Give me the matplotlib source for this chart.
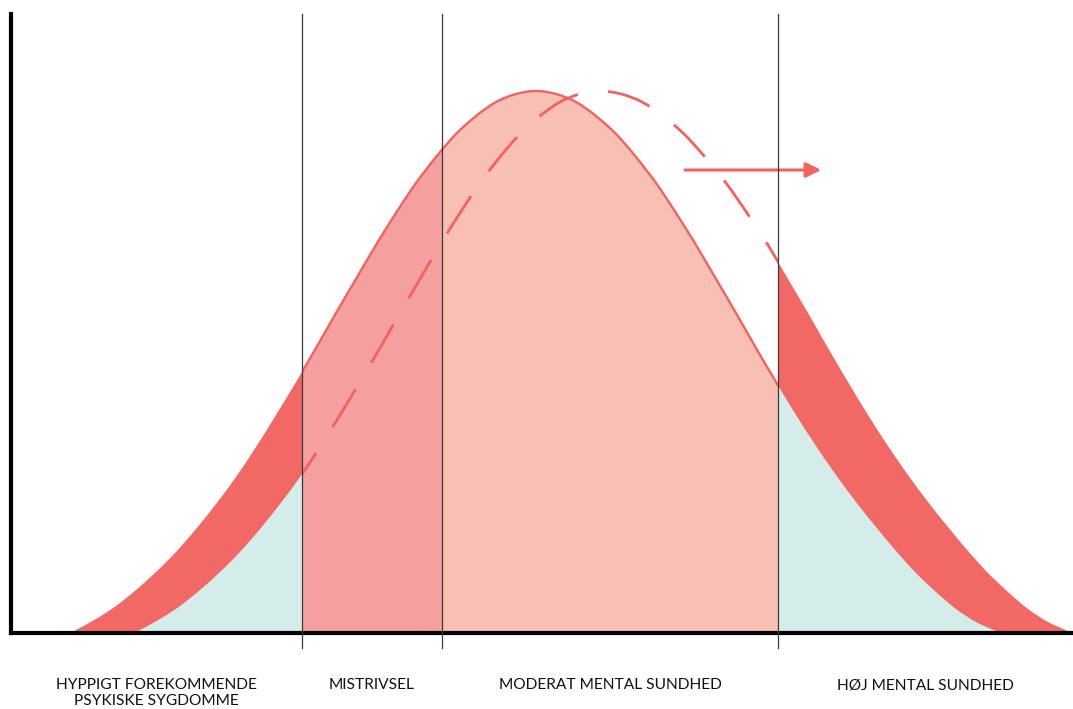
import numpy as np
import matplotlib
matplotlib.use('Agg')
import matplotlib.pyplot as plt
from matplotlib.patches import Rectangle, PathPatch
from matplotlib.path import Path

# population curve (x on a 0..1062 scale, height in the same units)
curve_x = [60, 65, 85, 105, 125, 145, 165, 185, 205, 225, 245, 265, 285, 305, 325,
           345, 365, 385, 405, 425, 445, 465, 485, 505, 525, 545, 565, 585, 605, 625,
           645, 665, 685, 705, 725, 745, 765, 785, 805, 825, 845, 865, 885, 905, 925,
           945, 965, 985, 990]
curve_y = [0, 3, 14, 27, 43, 61, 81, 104, 129, 156, 186, 218, 251, 285, 320,
           354, 388, 420, 450, 476, 499, 517, 531, 539, 542, 539, 531, 517, 499, 476,
           450, 420, 388, 354, 320, 285, 251, 218, 187, 158, 131, 106, 82, 60, 41,
           24, 11, 2, 0]

# the shifted (improved) population
shifted_x = [124, 129, 149, 169, 189, 209, 229, 249, 269, 289, 309, 329, 349, 369, 389,
             409, 429, 449, 469, 489, 509, 529, 549, 569, 589, 610, 631, 652, 673, 694,
             715, 736, 757, 777, 797, 817, 837, 857, 877, 897, 917, 937, 957, 977, 997,
             1017, 1037, 1057, 1062]
shifted_y = list(curve_y)

# band limits and names
cuts = [0, 291, 431, 767, 1062]
labels = ['HYPPIGT FOREKOMMENDE\nPSYKISKE SYGDOMME', 'MISTRIVSEL',
          'MODERAT MENTAL SUNDHED', 'HØJ MENTAL SUNDHED']

red = '#F26865'
pink = '#F4A0A1'
salmon = '#F8BFB5'
teal = '#D4EDEA'
line_red = '#F2625F'

plt.rcParams['font.family'] = ['Lato', 'DejaVu Sans']


def smooth_path(xs, ys, closed=False):
    # catmull-rom through the read points, drawn as bezier segments
    pts = np.column_stack([xs, ys]).astype(float)
    n = len(pts)
    verts = [pts[0]]
    codes = [Path.MOVETO]
    for i in range(n - 1):
        p0 = pts[max(i - 1, 0)]
        p1 = pts[i]
        p2 = pts[i + 1]
        p3 = pts[min(i + 2, n - 1)]
        verts += [p1 + (p2 - p0) / 6, p2 - (p3 - p1) / 6, p2]
        codes += [Path.CURVE4] * 3
    if closed:
        verts.append(pts[0])
        codes.append(Path.CLOSEPOLY)
    return Path(verts, codes)


fig = plt.figure(figsize=(10.73, 7.09), dpi=100)
ax = fig.add_axes([11 / 1073, 76 / 709, 1062 / 1073, 619 / 709])
ax.set_xlim(0, 1062)
ax.set_ylim(0, 619)


def band(x0, x1):
    return Rectangle((x0, -5), x1 - x0, 700, transform=ax.transData)


def add_area(xs, ys, color, x0, x1):
    p = PathPatch(smooth_path(xs, ys, closed=True), fc=color, lw=0)
    ax.add_patch(p)
    p.set_clip_path(band(x0, x1))
    return p


# left tail: red band above the shifted curve
add_area(curve_x, curve_y, red, cuts[0], cuts[1])
add_area(shifted_x, shifted_y, teal, cuts[0], cuts[1])

# middle bands
add_area(curve_x, curve_y, pink, cuts[1], cuts[2])
add_area(curve_x, curve_y, salmon, cuts[2], cuts[3])

# right tail: red band above the original curve
add_area(shifted_x, shifted_y, red, cuts[3], cuts[4])
add_area(curve_x, curve_y, teal, cuts[3], cuts[4])

# outlines in the middle section
solid = PathPatch(smooth_path(curve_x, curve_y), fill=False, ec=line_red, lw=1.7, zorder=3)
ax.add_patch(solid)
solid.set_clip_path(band(cuts[1], cuts[3]))
dashed = PathPatch(smooth_path(shifted_x, shifted_y), fill=False, ec=line_red, lw=2.0,
                   ls=(4, (16, 11)), zorder=3, capstyle='butt')
ax.add_patch(dashed)
dashed.set_clip_path(band(cuts[1], cuts[3]))

for c in cuts[1:4]:
    ax.plot([c, c], [-15, 619], color='#3a3a3a', lw=0.9, zorder=4, clip_on=False)

ax.annotate('', xy=(810, 463), xytext=(674, 463),
            arrowprops=dict(arrowstyle='-|>,head_length=0.9,head_width=0.45',
                            color=line_red, lw=2.2, shrinkA=0, shrinkB=0))

for i, lab in enumerate(labels):
    mid = (cuts[i] + cuts[i + 1]) / 2
    ax.text(mid, -45, lab, ha='center', va='top', fontsize=11.2,
            color='#111111', linespacing=1.2, clip_on=False)

for s in ['top', 'right']:
    ax.spines[s].set_visible(False)
ax.spines['left'].set_linewidth(3)
ax.spines['bottom'].set_linewidth(3)
ax.set_xticks([])
ax.set_yticks([])

fig.savefig('out.png', dpi=100)
